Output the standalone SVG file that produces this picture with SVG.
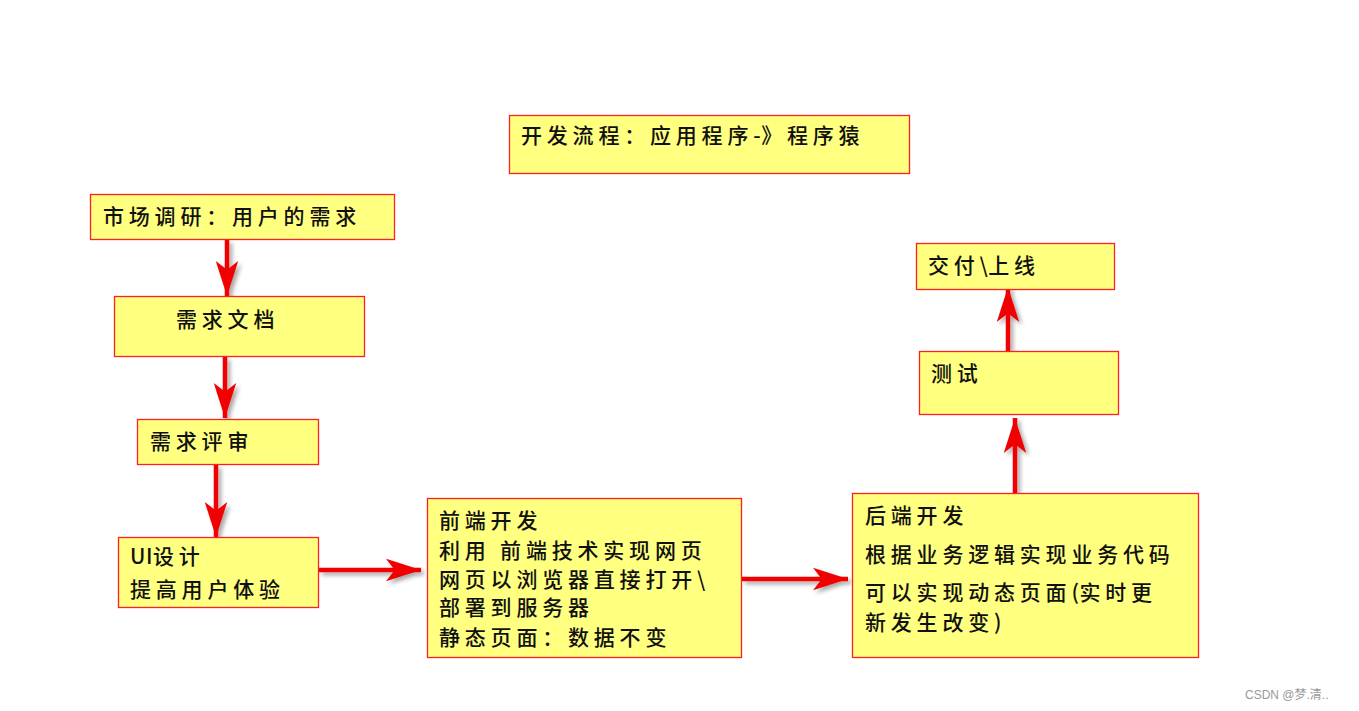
<svg xmlns="http://www.w3.org/2000/svg" width="1359" height="711" viewBox="0 0 1359 711">
<defs>
<style>
.box{fill:#FFFF80;stroke:#FF2020;stroke-width:1.3}
.t{font-family:"Noto Sans CJK SC","Liberation Sans",sans-serif;font-size:21px;font-weight:500;fill:#111;letter-spacing:4.8px}
.n{letter-spacing:0.5px}
.c{stroke:#F00000;stroke-width:4.5;fill:none;marker-end:url(#ah);filter:url(#sh)}
.wm{font-family:"Liberation Sans","Noto Sans CJK SC",sans-serif;font-size:12px;fill:#999}
</style>
<marker id="ah" markerUnits="userSpaceOnUse" markerWidth="40" markerHeight="30" viewBox="-30 -12 32 24" refX="0" refY="0" orient="auto">
<path d="M0,0 L-28,-9 L-21,0 L-28,9 Z" fill="#F00000"/>
</marker>
<filter id="sh" filterUnits="userSpaceOnUse" x="0" y="0" width="1359" height="711">
<feGaussianBlur in="SourceAlpha" stdDeviation="2"/>
<feOffset dx="3" dy="3" result="b"/>
<feComponentTransfer><feFuncA type="linear" slope="0.35"/></feComponentTransfer>
<feMerge><feMergeNode/><feMergeNode in="SourceGraphic"/></feMerge>
</filter>
</defs>
<rect width="1359" height="711" fill="#fff"/>
<g id="connectors">
<path class="c" d="M227,240 V296"/>
<path class="c" d="M225,357 V418"/>
<path class="c" d="M216,465 V537"/>
<path class="c" d="M319,570 H421"/>
<path class="c" d="M742,579 H848"/>
<path class="c" d="M1015,493 V418"/>
<path class="c" d="M1008,352 V287"/>
</g>
<g id="title"><rect class="box" x="509.5" y="115.5" width="400" height="58"/><text class="t" x="521" y="143">开发流程：应用程序<tspan class="n">-</tspan>》程序猿</text></g>
<g id="market"><rect class="box" x="90.5" y="194.5" width="304" height="45"/><text class="t" x="103" y="224">市场调研：用户的需求</text></g>
<g id="doc"><rect class="box" x="114.5" y="296.5" width="250" height="60"/><text class="t" x="176" y="327">需求文档</text></g>
<g id="review"><rect class="box" x="137.5" y="419.5" width="181" height="45"/><text class="t" x="150" y="449">需求评审</text></g>
<g id="ui"><rect class="box" x="118.5" y="537.5" width="200" height="70"/><text class="t" x="130" y="564"><tspan class="n">UI</tspan>设计</text><text class="t" x="130" y="597">提高用户体验</text></g>
<g id="frontend"><rect class="box" x="427.5" y="498.5" width="314" height="159"/>
<text class="t" x="439" y="528">前端开发</text>
<text class="t" x="439" y="558">利用 前端技术实现网页</text>
<text class="t" x="439" y="587">网页以浏览器直接打开<tspan class="n">\</tspan></text>
<text class="t" x="439" y="615">部署到服务器</text>
<text class="t" x="439" y="645">静态页面：数据不变</text></g>
<g id="backend"><rect class="box" x="852.5" y="493.5" width="346" height="164"/>
<text class="t" x="865" y="523">后端开发</text>
<text class="t" x="865" y="562">根据业务逻辑实现业务代码</text>
<text class="t" x="865" y="600">可以实现动态页面<tspan class="n">(</tspan>实时更</text>
<text class="t" x="865" y="630">新发生改变<tspan class="n">)</tspan></text></g>
<g id="test"><rect class="box" x="919.5" y="351.5" width="199" height="63"/><text class="t" x="931" y="381">测试</text></g>
<g id="deliver"><rect class="box" x="916.5" y="243.5" width="198" height="46"/><text class="t" x="928" y="273">交付<tspan class="n">\</tspan>上线</text></g>
<text class="wm" x="1245" y="699">CSDN @梦.清..</text>
</svg>
